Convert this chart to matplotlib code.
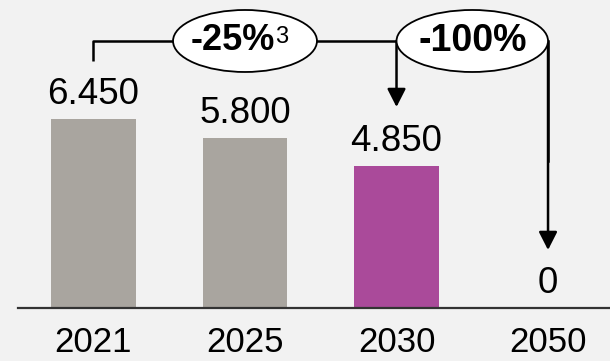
import matplotlib.pyplot as plt
from matplotlib.patches import Ellipse

plt.rcParams['font.family'] = ['Liberation Sans', 'DejaVu Sans']

# data
years = ['2021', '2025', '2030', '2050']
values = [6450, 5800, 4850, 0]
value_labels = ['6.450', '5.800', '4.850', '0']
bar_colors = ['#A9A59F', '#A9A59F', '#AA4A9A', '#A9A59F']
change_labels = ['-25%', '-100%']
footnote = '3'

bg = '#F2F2F2'
fig = plt.figure(figsize=(6.10, 3.61), dpi=100, facecolor=bg)
ax = fig.add_axes([0, 0, 1, 1])
ax.set_facecolor(bg)

x = list(range(len(years)))
ax.bar(x, values, width=0.56, color=bar_colors, zorder=2)

# axes scaling (pixel-matched to reference)
ax.set_xlim(-0.617, 3.409)
ax.set_ylim(-1809, 10512)
ax.axis('off')

# baseline
ax.axhline(0, xmin=18 / 610, xmax=1, color='#333333', lw=1.6, zorder=3)

# value labels
for xi, v, lab in zip(x, values, value_labels):
    ax.text(xi, v + 230, lab, ha='center', va='bottom', fontsize=26.5)

# category labels
for xi, y in zip(x, years):
    ax.text(xi, -1180, y, ha='center', va='center', fontsize=25)

# bracket / arrows
y_top = 9113
lw = 1.8
ax.plot([0, 0, 2], [8430, y_top, y_top], color='black', lw=lw, solid_capstyle='butt', zorder=4)
ax.plot([3, 3], [y_top, 5000], color='black', lw=lw, zorder=4)
arrow_kw = dict(arrowstyle='-|>,head_length=0.55,head_width=0.28', lw=lw, color='black',
                shrinkA=0, shrinkB=0, mutation_scale=20)
ax.annotate('', xy=(2, 6860), xytext=(2, y_top), arrowprops=arrow_kw, zorder=4)
ax.annotate('', xy=(3, 1980), xytext=(3, y_top), arrowprops=arrow_kw, zorder=4)

# ellipses with change labels
ax.add_patch(Ellipse((1.0, y_top), 0.95, 2116, facecolor='white', edgecolor='black', lw=1.3, zorder=5))
ax.add_patch(Ellipse((2.5, y_top), 1.0, 2116, facecolor='white', edgecolor='black', lw=1.3, zorder=5))
ax.annotate(change_labels[0], (1.0, y_top), xytext=(30, 0), textcoords='offset pixels',
            ha='right', va='center', fontsize=26, fontweight='bold', zorder=6)
ax.annotate(footnote, (1.0, y_top), xytext=(30, 15), textcoords='offset pixels',
            ha='left', va='top', fontsize=17, zorder=6)
ax.text(2.5, y_top, change_labels[1], ha='center', va='center', fontsize=27,
        fontweight='bold', zorder=6)

fig.savefig('out.png', dpi=100, facecolor=bg)
